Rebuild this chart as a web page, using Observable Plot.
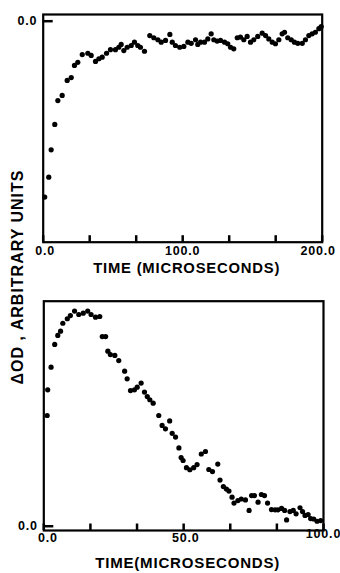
<!DOCTYPE html>
<html><head><meta charset="utf-8">
<script src="https://cdn.jsdelivr.net/npm/d3@7"></script>
<script src="https://cdn.jsdelivr.net/npm/@observablehq/plot@0.6"></script>
<style>
html,body{margin:0;padding:0;background:#fff;}
#fig{position:relative;width:340px;height:573px;overflow:hidden;font-family:"Liberation Sans",Arial,sans-serif;font-weight:bold;color:#000;}
#top{position:absolute;left:0;top:0;}
#bot{position:absolute;left:0;top:286px;}
#ylab{position:absolute;left:18px;top:277px;width:0;height:0;}
#ylab span{position:absolute;left:0;top:0;transform:translate(-50%,-50%) rotate(-90deg);white-space:nowrap;font-size:16px;letter-spacing:1px;line-height:1;}
</style></head><body>
<div id="fig"><div id="top"></div><div id="bot"></div><div id="ylab"><span>ΔOD , ARBITRARY UNITS</span></div></div>
<script>
// ---- data: upper panel (time in microseconds, ΔOD arbitrary units, 0 at top) ----
const timeA = [1.1,4.0,5.7,8.3,10.5,13.6,17.2,20.1,22.4,24.8,28.0,32.0,34.4,37.5,39.9,42.3,45.4,48.2,51.8,54.2,55.9,57.8,60.2,63.1,65.4,67.8,69.7,72.6,76.4,79.3,82.2,84.6,87.7,90.8,92.5,94.8,97.9,100.8,103.7,106.1,109.2,110.8,112.8,115.6,118.0,120.4,122.3,124.7,127.1,130.0,132.3,134.3,136.6,139.1,141.4,143.8,146.2,148.6,151.0,153.8,157.0,159.4,161.7,164.2,166.5,168.9,171.3,173.0,175.3,177.8,180.1,182.5,185.7,188.0,190.4,192.8,195.1,197.6,199.3];
const odA = [-0.796,-0.706,-0.582,-0.467,-0.359,-0.336,-0.268,-0.255,-0.200,-0.186,-0.151,-0.145,-0.155,-0.182,-0.170,-0.163,-0.145,-0.129,-0.129,-0.118,-0.105,-0.133,-0.118,-0.110,-0.095,-0.110,-0.118,-0.136,-0.065,-0.075,-0.084,-0.095,-0.087,-0.060,-0.095,-0.110,-0.118,-0.114,-0.095,-0.100,-0.084,-0.105,-0.095,-0.095,-0.080,-0.057,-0.084,-0.090,-0.087,-0.095,-0.102,-0.118,-0.125,-0.075,-0.072,-0.084,-0.069,-0.095,-0.084,-0.069,-0.054,-0.065,-0.080,-0.095,-0.102,-0.084,-0.057,-0.050,-0.075,-0.084,-0.095,-0.100,-0.100,-0.084,-0.065,-0.057,-0.050,-0.034,-0.024];
// ---- data: lower panel ----
const timeB = [1.2,1.4,2.6,3.9,5.0,6.0,6.8,8.4,9.5,11.0,12.5,14.1,15.7,16.9,18.5,20.0,20.9,22.1,22.9,23.8,25.4,26.8,28.9,29.8,31.0,32.4,33.4,34.8,36.0,37.0,37.9,39.1,41.1,42.3,43.5,45.0,45.9,47.1,48.3,49.1,49.8,51.0,52.2,53.6,54.8,56.3,57.8,59.0,60.3,62.2,63.0,64.2,65.3,66.2,67.3,68.0,69.4,70.6,72.1,73.4,74.3,75.3,76.6,77.8,78.9,80.0,81.4,82.7,83.7,85.0,86.1,86.8,88.0,89.2,90.2,91.6,92.5,93.4,94.5,95.4,96.5,97.7,99.0];
const odB = [0.492,0.606,0.707,0.808,0.848,0.867,0.902,0.922,0.936,0.956,0.941,0.947,0.956,0.941,0.929,0.932,0.843,0.843,0.778,0.763,0.759,0.736,0.689,0.655,0.603,0.606,0.618,0.636,0.596,0.576,0.562,0.547,0.492,0.448,0.433,0.468,0.413,0.396,0.348,0.305,0.292,0.260,0.251,0.260,0.274,0.321,0.332,0.252,0.243,0.276,0.205,0.176,0.165,0.156,0.129,0.103,0.114,0.121,0.117,0.070,0.136,0.136,0.107,0.141,0.136,0.103,0.074,0.073,0.073,0.079,0.070,0.028,0.065,0.070,0.055,0.082,0.065,0.048,0.052,0.034,0.032,0.022,0.025];
// ---- axes ----
const ticksA = [0, 200/6, 400/6, 100, 800/6, 1000/6, 200];
const labelsA = [0, 100, 200];
const ticksB = [0, 100/6, 200/6, 50, 400/6, 500/6, 100];
const labelsB = [0, 50, 100];
const yTickLabels = [0];
const titleA = "TIME (MICROSECONDS)";
const titleB = "TIME(MICROSECONDS)";

const fmt = d3.format(".1f");

function panel(o) {
  const data = o.t.map((t, i) => ({t, v: o.v[i]}));
  const innerW = 340 - o.ml - o.mr;
  const innerH = o.height - o.mt - o.mb;
  const labelMarks = o.labels.map((d, i) => Plot.text([d], {
    x: d => d, text: d => fmt(d), frameAnchor: "bottom",
    dy: o.labelDy[i], dx: o.labelDx[i], textAnchor: "middle", fontSize: 12.5
  }));
  const svg = Plot.plot({
    width: 340, height: o.height,
    marginLeft: o.ml, marginRight: o.mr, marginTop: o.mt, marginBottom: o.mb,
    x: {domain: o.xDomain, axis: null},
    y: {domain: o.yDomain, axis: null},
    style: {background: "white", color: "black", fontFamily: "Liberation Sans, Arial, sans-serif", fontWeight: "bold", fontSize: "12px", letterSpacing: "0.8px", overflow: "visible"},
    marks: [
      // inward tick marks (short, via pixel insets)
      Plot.tickX(o.ticks, {x: d => d, insetTop: innerH - 6.5, stroke: "black", strokeWidth: 2.5}),
      Plot.tickY(yTickLabels, {y: d => d, insetRight: innerW - 10, stroke: "black", strokeWidth: 2.5}),
      Plot.text(yTickLabels, {y: d => d, text: d => fmt(d), frameAnchor: "left", textAnchor: "end", dx: -6, fontSize: 12.5}),
      ...labelMarks,
      Plot.text([o.title], {text: d => d, frameAnchor: "bottom", dy: o.titleDy, dx: o.titleDx, fontSize: 15}),
      Plot.dot(data, {x: "t", y: "v", r: 2.6, fill: "black", stroke: "none"}),
      Plot.frame({stroke: "black", strokeWidth: 2.2})
    ]
  });
  // stretch the axis title to the lettering width of the original
  d3.select(svg).selectAll("text").filter(function() { return this.textContent === o.title; })
    .attr("textLength", o.titleLen).attr("lengthAdjust", "spacingAndGlyphs");
  return svg;
}

document.getElementById("top").append(panel({
  t: timeA, v: odA, xDomain: [0, 200], yDomain: [-1, 0.0303],
  ticks: ticksA, labels: labelsA, height: 286,
  ml: 42.7, mr: 18.3, mt: 14, mb: 44.3,
  labelDy: [12.5, 12.5, 12.5], labelDx: [2, 0, -4],
  title: titleA, titleDy: 31, titleDx: 4, titleLen: 187
}));
document.getElementById("bot").append(panel({
  t: timeB, v: odB, xDomain: [0, 100], yDomain: [-0.019, 1.0],
  ticks: ticksB, labels: labelsB, height: 287,
  ml: 43.3, mr: 17, mt: 14.7, mb: 43,
  labelDy: [11, 11, 7.5], labelDx: [4, 2, 0],
  title: titleB, titleDy: 37.5, titleDx: 4, titleLen: 185
}));
</script>
</body></html>
